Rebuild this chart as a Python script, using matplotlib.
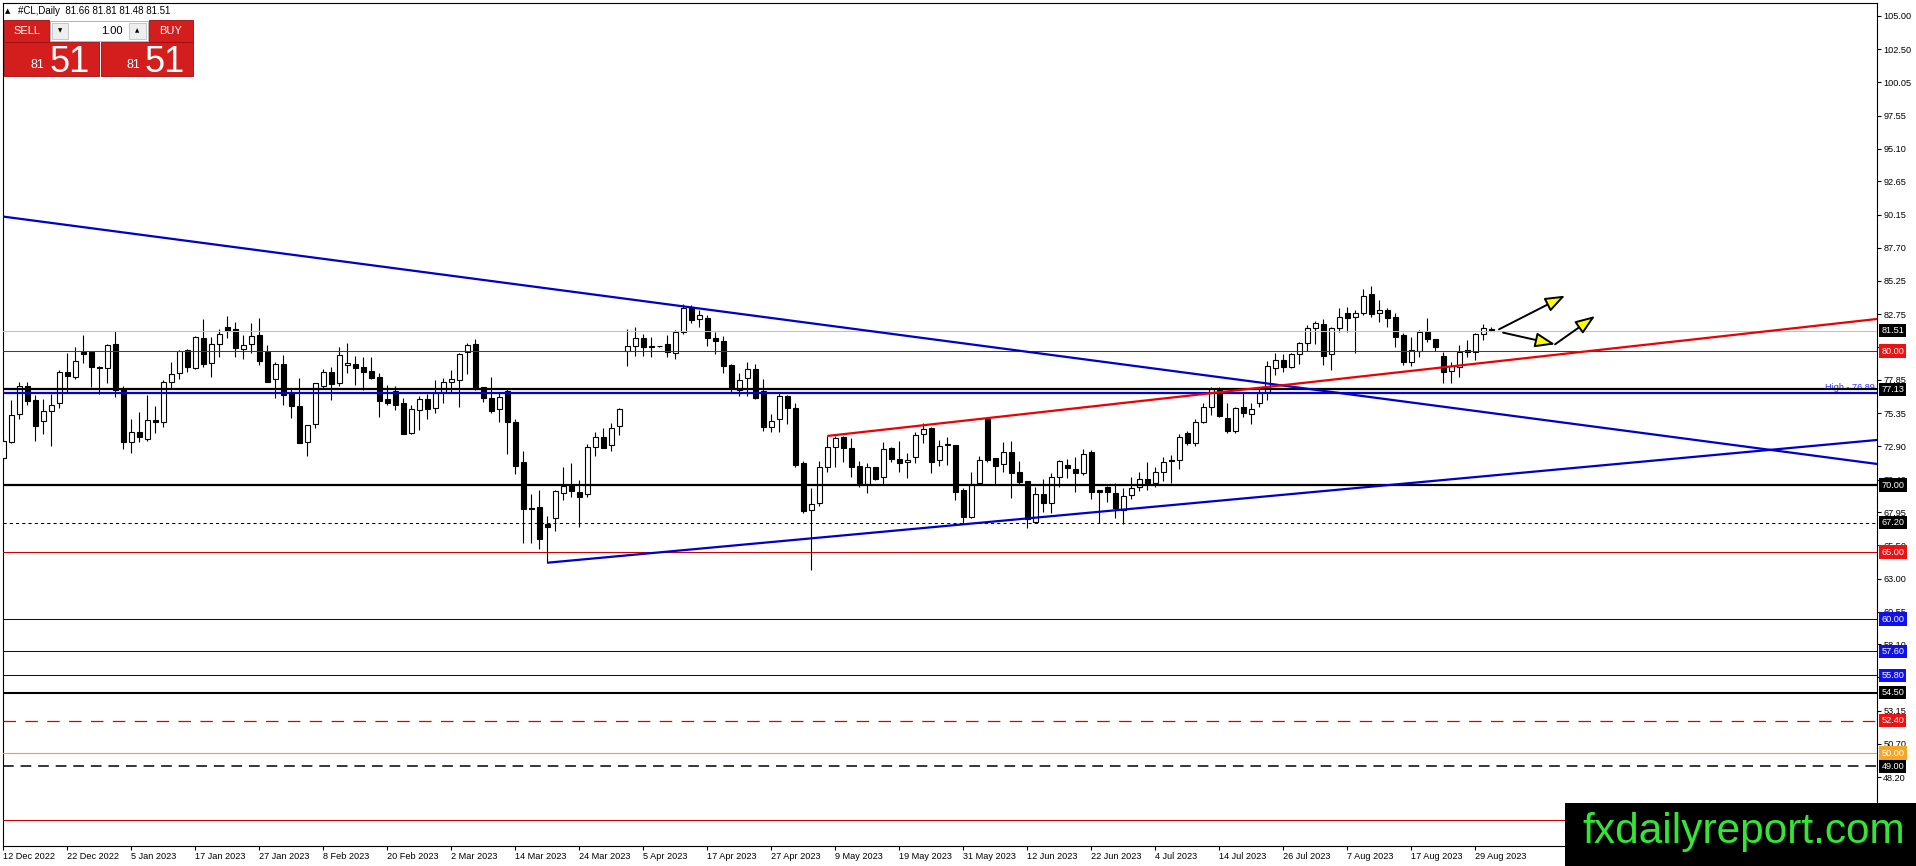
import numpy as np
import matplotlib
matplotlib.use("Agg")
import matplotlib.pyplot as plt
from matplotlib.patches import Rectangle, FancyArrowPatch
from matplotlib.transforms import blended_transform_factory

plt.rcParams['font.family'] = ['Liberation Sans', 'DejaVu Sans']

# ---------------- data (daily OHLC, #CL) ----------------
opens = [
    71.99, 73.23, 75.27, 77.39, 76.34, 74.80, 75.55, 76.09, 78.41, 78.09,
    79.93, 79.93, 78.81, 78.71, 80.52, 77.19, 73.23, 73.93, 73.41, 74.83,
    74.73, 77.66, 78.33, 80.07, 78.71, 80.95, 79.08, 80.50, 81.77, 81.64,
    80.17, 80.50, 81.19, 79.93, 77.89, 79.03, 76.89, 75.90, 73.18, 74.53,
    77.41, 78.41, 77.64, 78.93, 79.00, 78.81, 78.48, 78.06, 76.39, 77.01,
    76.09, 73.91, 75.60, 76.42, 75.72, 76.97, 77.71, 77.84, 79.90, 80.50,
    77.29, 76.47, 75.65, 77.01, 74.68, 71.69, 68.26, 68.33, 67.09, 67.51,
    69.38, 69.95, 69.48, 69.33, 72.81, 73.56, 72.96, 74.40, 80.02, 80.40,
    80.95, 80.40, 80.37, 80.50, 79.83, 81.39, 83.31, 82.36, 82.49, 81.00,
    80.75, 78.96, 77.09, 77.96, 78.66, 77.05, 74.35, 74.90, 76.67, 75.77,
    71.62, 68.14, 68.68, 71.32, 72.81, 73.56, 72.74, 71.42, 70.07, 71.32,
    70.57, 72.74, 71.92, 71.69, 72.07, 73.81, 74.23, 71.87, 73.00, 72.99,
    69.63, 67.59, 70.17, 74.90, 71.99, 71.57, 72.49, 70.97, 70.30, 67.26,
    69.30, 68.68, 70.57, 71.49, 71.17, 70.87, 72.49, 69.60, 69.83, 69.43,
    68.13, 69.25, 69.83, 70.42, 70.12, 70.99, 71.87, 71.87, 73.86, 73.11,
    74.73, 75.80, 77.10, 74.98, 74.05, 75.80, 75.30, 76.14, 76.97, 78.71,
    79.33, 78.83, 79.75, 80.62, 81.69, 81.99, 79.75, 81.69, 82.81, 82.51,
    82.81, 84.23, 82.81, 83.06, 82.51, 81.19, 79.20, 80.00, 81.39, 80.89,
    79.63, 78.53, 78.83, 80.07, 79.95, 81.24, 81.66]

highs = [
    73.60, 76.34, 77.71, 77.71, 76.72, 76.39, 76.79, 78.58, 79.83, 80.27,
    81.17, 79.95, 78.85, 80.52, 81.52, 77.39, 74.90, 75.45, 76.72, 75.90,
    77.84, 79.15, 80.07, 80.15, 81.12, 82.39, 81.02, 81.64, 82.61, 82.14,
    81.17, 82.06, 82.46, 80.42, 79.20, 79.70, 77.21, 77.96, 74.50, 77.62,
    78.63, 78.83, 80.32, 80.57, 79.63, 79.58, 79.58, 78.33, 77.46, 77.39,
    76.47, 75.97, 76.67, 76.79, 77.84, 77.96, 78.58, 79.83, 80.57, 80.90,
    77.30, 78.08, 76.97, 77.21, 74.90, 72.56, 69.33, 69.63, 67.69, 69.63,
    71.32, 71.67, 70.37, 73.04, 73.93, 74.28, 74.60, 75.72, 81.64, 81.77,
    81.24, 81.02, 80.40, 81.19, 81.57, 83.51, 83.43, 83.06, 82.69, 81.44,
    81.12, 79.00, 78.33, 79.15, 79.00, 77.91, 75.30, 76.84, 76.70, 76.14,
    71.79, 69.75, 71.79, 73.68, 73.66, 73.66, 73.48, 71.79, 71.62, 71.35,
    73.23, 72.86, 73.31, 72.36, 73.98, 74.65, 74.30, 73.36, 73.56, 73.00,
    69.75, 70.99, 72.17, 74.98, 72.00, 73.23, 73.28, 71.79, 70.32, 69.83,
    70.45, 70.92, 71.87, 71.94, 72.07, 72.66, 72.61, 69.63, 69.95, 70.12,
    69.75, 70.57, 70.99, 71.74, 71.32, 72.11, 72.24, 73.81, 74.05, 74.90,
    76.14, 77.29, 77.34, 76.09, 75.85, 76.89, 76.09, 77.34, 79.28, 79.83,
    79.75, 79.83, 80.65, 81.94, 82.26, 82.39, 81.82, 83.18, 83.26, 83.06,
    84.60, 84.85, 83.81, 83.18, 82.86, 81.37, 81.02, 81.57, 82.44, 80.90,
    79.95, 79.20, 80.45, 80.82, 81.32, 82.01, 81.81]

lows = [
    71.87, 73.11, 74.90, 75.97, 73.31, 73.78, 72.93, 75.77, 76.89, 77.94,
    79.08, 77.29, 76.77, 77.64, 76.59, 72.71, 72.41, 73.18, 73.31, 73.86,
    74.30, 77.19, 77.94, 78.46, 78.63, 78.78, 78.08, 79.58, 81.00, 79.58,
    79.43, 79.88, 78.96, 77.66, 76.52, 75.97, 74.98, 73.11, 72.19, 74.28,
    77.21, 76.34, 77.41, 78.38, 77.44, 77.09, 77.89, 75.05, 75.97, 75.60,
    73.78, 73.78, 74.10, 74.93, 75.40, 76.09, 76.84, 75.80, 78.26, 77.09,
    76.20, 75.40, 74.73, 72.31, 70.80, 65.70, 65.70, 65.20, 64.20, 66.59,
    68.88, 69.13, 66.84, 69.08, 72.19, 72.74, 72.56, 73.73, 78.90, 79.65,
    79.65, 79.58, 80.33, 79.58, 79.38, 81.24, 82.06, 81.77, 80.40, 79.78,
    78.38, 76.97, 76.67, 76.67, 76.40, 74.03, 73.98, 73.93, 74.53, 71.37,
    67.94, 63.66, 68.46, 70.99, 71.32, 71.74, 70.62, 69.88, 69.38, 70.37,
    70.07, 71.74, 70.99, 70.50, 71.67, 73.11, 70.92, 71.42, 71.49, 68.88,
    67.06, 67.51, 70.07, 71.74, 70.07, 70.99, 69.00, 70.07, 66.77, 67.14,
    68.01, 67.94, 69.88, 70.55, 69.50, 70.75, 68.93, 67.14, 68.76, 67.51,
    67.09, 68.93, 69.55, 69.63, 69.88, 70.32, 70.17, 71.17, 72.98, 72.91,
    74.65, 75.22, 75.10, 73.86, 73.86, 75.10, 74.55, 75.85, 76.34, 78.21,
    78.46, 78.70, 79.00, 80.02, 80.52, 78.95, 78.58, 81.44, 81.44, 79.88,
    82.69, 82.56, 82.19, 81.77, 80.32, 78.95, 78.91, 79.53, 80.70, 80.02,
    77.59, 77.59, 78.09, 79.58, 79.33, 80.82, 81.48]

closes = [
    73.31, 75.22, 77.39, 76.29, 74.43, 75.55, 75.97, 78.41, 78.16, 79.28,
    79.80, 78.78, 78.73, 80.42, 77.09, 73.18, 73.93, 73.61, 74.83, 74.68,
    77.66, 78.26, 80.02, 78.78, 81.02, 79.03, 80.50, 81.24, 81.52, 80.20,
    80.42, 81.09, 79.28, 77.71, 79.03, 76.69, 75.92, 73.16, 74.48, 77.59,
    78.41, 77.56, 79.68, 79.13, 78.76, 78.46, 78.01, 76.29, 76.09, 75.97,
    73.81, 75.65, 76.42, 75.67, 76.84, 77.66, 77.89, 79.80, 80.42, 77.14,
    76.47, 75.55, 76.59, 74.73, 71.44, 68.19, 68.19, 65.95, 66.84, 69.55,
    69.95, 69.55, 69.13, 72.86, 73.56, 72.79, 74.28, 75.65, 80.37, 80.95,
    80.27, 80.32, 80.35, 79.90, 81.39, 83.23, 82.31, 82.69, 80.95, 80.77,
    78.91, 77.26, 77.84, 78.63, 76.47, 74.30, 74.78, 76.67, 75.72, 71.49,
    68.09, 68.56, 71.32, 72.81, 73.48, 72.74, 71.37, 70.00, 71.32, 70.45,
    72.66, 71.92, 71.62, 71.87, 73.73, 74.15, 71.74, 72.91, 73.06, 69.50,
    67.59, 70.07, 71.87, 71.87, 71.42, 72.49, 70.92, 70.25, 67.44, 69.30,
    68.68, 70.57, 71.79, 71.24, 70.92, 72.31, 69.50, 69.50, 69.50, 68.26,
    69.18, 69.75, 70.42, 70.07, 70.99, 71.74, 71.82, 73.61, 73.16, 74.73,
    75.80, 77.14, 75.15, 74.05, 75.72, 75.35, 75.65, 76.84, 78.88, 79.33,
    78.83, 79.75, 80.62, 81.69, 82.11, 79.65, 81.69, 82.56, 82.44, 82.81,
    84.13, 82.76, 83.06, 82.44, 81.02, 79.20, 80.07, 81.39, 80.89, 80.27,
    78.46, 78.91, 79.95, 79.95, 81.24, 81.69, 81.51]

date_labels = ['12 Dec 2022', '22 Dec 2022', '5 Jan 2023', '17 Jan 2023', '27 Jan 2023',
               '8 Feb 2023', '20 Feb 2023', '2 Mar 2023', '14 Mar 2023', '24 Mar 2023',
               '5 Apr 2023', '17 Apr 2023', '27 Apr 2023', '9 May 2023', '19 May 2023',
               '31 May 2023', '12 Jun 2023', '22 Jun 2023', '4 Jul 2023', '14 Jul 2023',
               '26 Jul 2023', '7 Aug 2023', '17 Aug 2023', '29 Aug 2023']
bars_per_label = 8

price_ticks = [105.00, 102.50, 100.05, 97.55, 95.10, 92.65, 90.15, 87.70, 85.25, 82.75,
               80.30, 77.85, 75.35, 72.90, 70.40, 67.95, 65.50, 63.00, 60.55, 58.10,
               55.65, 53.15, 50.70, 48.20, 45.75]

# horizontal levels
level_values = [81.51, 80.00, 77.13, 76.89, 70.00, 67.20, 65.00, 60.00, 57.60, 55.80,
                54.50, 52.40, 50.00, 49.00, 45.00]
level_colors = ['#c0c0c0', '#cc0000', '#000000', '#0000dd', '#000000', '#000000', '#cc0000',
                '#0000aa', '#0000aa', '#0000aa', '#000000', '#dd0000', '#f0a030', '#000000',
                '#cc0000']
level_widths = [0.75, 0.75, 1.6, 1.6, 1.6, 0.75, 0.75, 0.75, 0.75, 0.75, 1.5, 0.9, 0.8, 1.1, 0.75]
level_styles = ['-', '-', '-', '-', '-', (0, (3, 3)), '-', '-', '-', '-', '-',
                (0, (10, 7.5)), '-', (0, (7, 4.5)), '-']
box_values = [81.51, 80.00, 77.13, 70.00, 67.20, 65.00, 60.00, 57.60, 55.80, 54.50,
              52.40, 50.00, 49.00]
box_colors = ['#000000', '#ee1111', '#000000', '#000000', '#000000', '#ee1111', '#1010ee',
              '#1010ee', '#1010ee', '#000000', '#ee1111', '#f5a623', '#000000']

# trend lines (bar index, price)
trend_x = [[0.0, 234.25], [68.0, 234.25], [103.0, 234.25]]
trend_y = [[90.03, 71.57], [64.20, 73.36], [73.66, 82.39]]
trend_colors = ['#0000cc', '#0000cc', '#ee0000']

# projection arrows (bar index, price)
arrow_from = [(187.0, 81.62), (187.5, 81.37), (194.0, 80.50)]
arrow_to = [(195.25, 84.13), (194.0, 80.50), (199.0, 82.61)]

symbol_line = '#CL,Daily  81.66 81.81 81.48 81.51'
bid_big, bid_small = '51', '81'

# ---------------- figure ----------------
W, H, DPI = 1916, 866, 100
fig = plt.figure(figsize=(W / DPI, H / DPI), dpi=DPI, facecolor='white')
ax = fig.add_axes([3 / W, 1 - 846 / H, 1874 / W, 843 / H])
ax.set_xlim(-0.05, 234.25)
ax.set_ylim(43.06, 105.97)
ax.set_facecolor('white')

x = np.arange(len(closes))
o = np.array(opens); hi = np.array(highs); lo = np.array(lows); c = np.array(closes)
bull = c >= o
bottoms = np.minimum(o, c)
heights = np.maximum(np.abs(c - o), 0.05)
ax.vlines(x, lo, hi, colors='black', linewidth=0.8, zorder=4)
ax.bar(x[bull], heights[bull], bottom=bottoms[bull], width=0.62, facecolor='white',
       edgecolor='black', linewidth=0.8, zorder=5)
ax.bar(x[~bull], heights[~bull], bottom=bottoms[~bull], width=0.62, facecolor='black',
       edgecolor='black', linewidth=0.8, zorder=5)

for v, col, lw, ls in zip(level_values, level_colors, level_widths, level_styles):
    ax.axhline(v, color=col, linewidth=lw, linestyle=ls, zorder=6)

for tx, ty, col in zip(trend_x, trend_y, trend_colors):
    ax.plot(tx, ty, color=col, linewidth=1.6, zorder=7, solid_capstyle='butt')

for a, b in zip(arrow_from, arrow_to):
    arr = FancyArrowPatch(a, b, arrowstyle='-|>,head_length=12,head_width=4.5',
                          mutation_scale=1, facecolor='#ffff00', edgecolor='black',
                          linewidth=1.4, shrinkA=0, shrinkB=0, zorder=8)
    ax.add_patch(arr)

trans = blended_transform_factory(ax.transAxes, ax.transData)
ax.text(0.9988, 76.93, 'High - 76.89', transform=trans, ha='right', va='bottom',
        fontsize=6.6, color='#3333ff', zorder=5.5)

for v, col in zip(box_values, box_colors):
    ax.text(1.0024, v, f'{v:.2f}', transform=trans, ha='left', va='center',
            fontsize=6.6, color='white', zorder=20, clip_on=False,
            bbox=dict(boxstyle='square,pad=0.22', facecolor=col, edgecolor='none'))

ax.yaxis.tick_right()
ax.set_yticks(price_ticks)
ax.set_yticklabels([f'{v:.2f}' for v in price_ticks])
ax.tick_params(axis='y', direction='out', length=3, width=0.8, labelsize=6.6, pad=1.5)
ax.set_xticks(np.arange(len(date_labels)) * bars_per_label)
ax.set_xticklabels(date_labels, ha='left')
ax.tick_params(axis='x', direction='out', length=3, width=0.8, labelsize=6.6, pad=1.5)
for s in ax.spines.values():
    s.set_linewidth(0.8)
    s.set_color('black')

# ---------------- overlay (terminal chrome) ----------------
ov = fig.add_axes([0, 0, 1, 1], zorder=10)
ov.set_xlim(0, W)
ov.set_ylim(H, 0)
ov.axis('off')

ov.text(5, 11, '\u25b2', fontsize=5, color='black', va='center', ha='left',
        family=['DejaVu Sans'])
ov.text(18, 11, symbol_line, fontsize=7, color='black', va='center', ha='left')

red = '#d41e1e'
ov.add_patch(Rectangle((4, 20), 45, 22, facecolor=red, edgecolor='#9a0c0c', linewidth=0.6))
ov.add_patch(Rectangle((149, 20), 44, 22, facecolor=red, edgecolor='#9a0c0c', linewidth=0.6))
ov.add_patch(Rectangle((50, 21), 98, 20, facecolor='white', edgecolor='#a8a8a8', linewidth=0.6))
ov.add_patch(Rectangle((52, 23), 16, 16, facecolor='#eeeeee', edgecolor='#c0c0c0', linewidth=0.6))
ov.add_patch(Rectangle((129, 23), 17, 16, facecolor='#eeeeee', edgecolor='#c0c0c0', linewidth=0.6))
ov.text(60, 31, '\u25bc', fontsize=4, ha='center', va='center', family=['DejaVu Sans'])
ov.text(137.5, 31, '\u25b2', fontsize=4, ha='center', va='center', family=['DejaVu Sans'])
ov.text(123, 31, '1.00', fontsize=8, ha='right', va='center', color='black')
ov.text(26.5, 31, 'SELL', fontsize=8, ha='center', va='center', color='white')
ov.text(171, 31, 'BUY', fontsize=8, ha='center', va='center', color='white')
ov.add_patch(Rectangle((4, 42), 95, 34, facecolor=red, edgecolor='#9a0c0c', linewidth=0.6))
ov.add_patch(Rectangle((101, 42), 92, 34, facecolor=red, edgecolor='#9a0c0c', linewidth=0.6))
for xs, xb in [(44, 50), (140, 145)]:
    ov.text(xs, 68, bid_small, fontsize=9, ha='right', va='baseline', color='white')
    ov.text(xb, 72, bid_big, fontsize=26, ha='left', va='baseline', color='white',
            family=['Liberation Sans Narrow', 'Liberation Sans'])

ov.add_patch(Rectangle((1565, 803), 351, 63, facecolor='black', edgecolor='none'))
ov.text(1582, 843, 'fxdailyreport.com', fontsize=30.5, color='#35e535', ha='left',
        va='baseline')

fig.savefig('out.png', dpi=DPI, facecolor='white')
